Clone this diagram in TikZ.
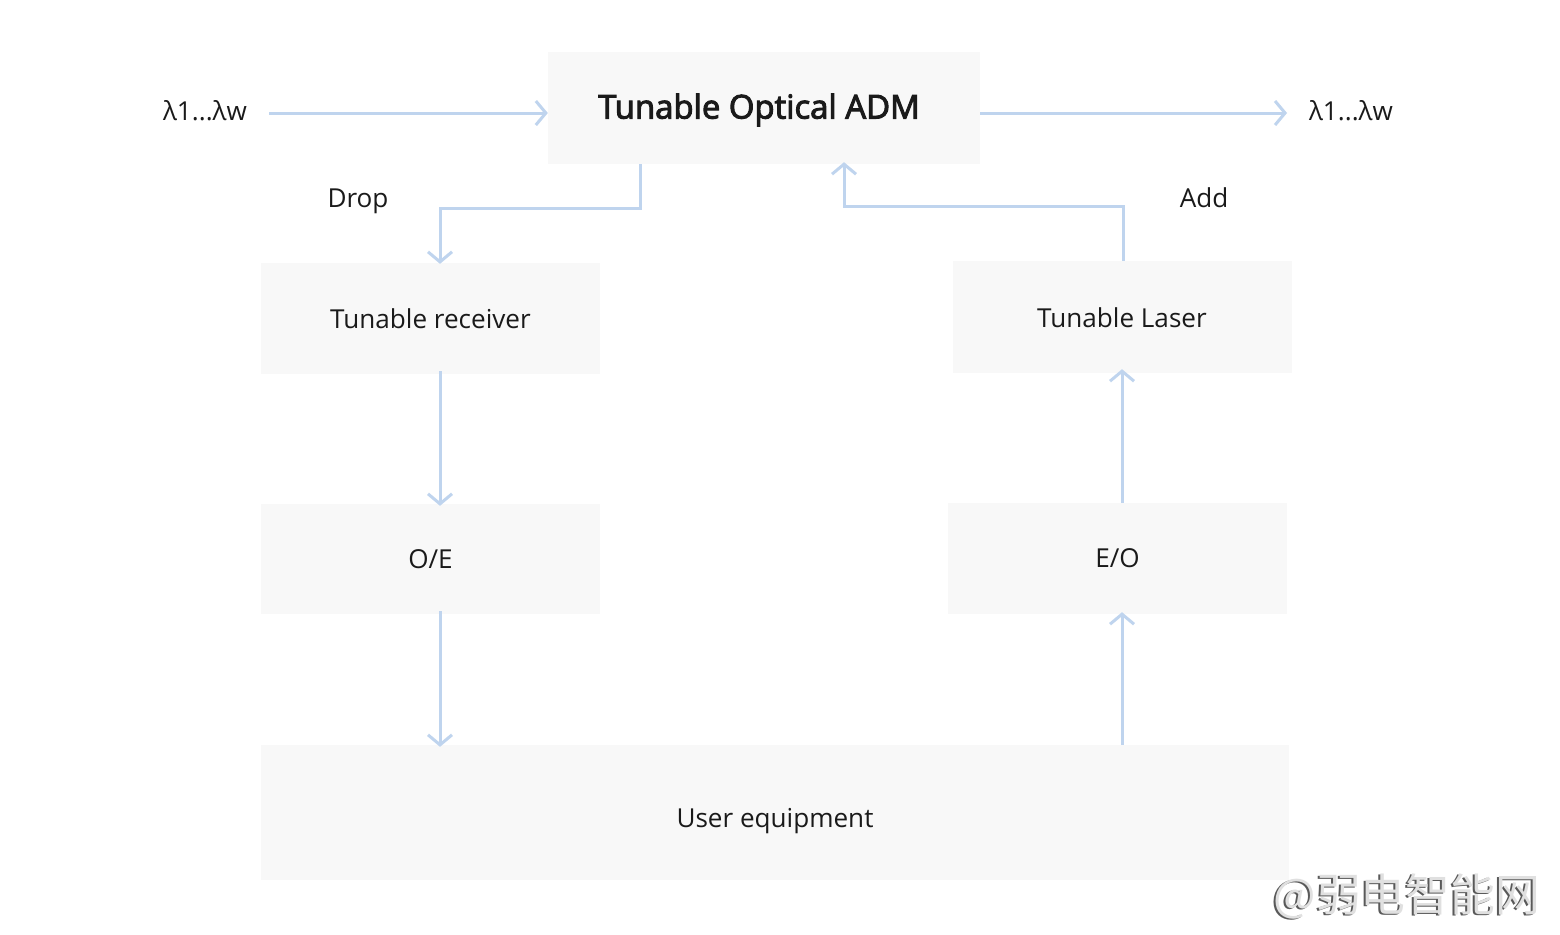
\documentclass[tikz,border=0pt]{standalone}
\usepackage{fontspec}
\setmainfont{Open Sans}
\newfontfamily\semib[FakeBold=3]{Open Sans}
\newfontfamily\cjkfont{Noto Sans CJK SC}
\usetikzlibrary{arrows.meta}
\definecolor{boxfill}{HTML}{F8F8F8}
\definecolor{linkc}{HTML}{BFD4EE}
\definecolor{txt}{HTML}{1A1A1A}
\tikzset{
  blk/.style={fill=boxfill, draw=none, inner sep=0pt, text=txt, font=\fontsize{26.2}{30}\selectfont},
  lbl/.style={inner sep=0pt, text=txt, font=\fontsize{26.2}{30}\selectfont},
  link/.style={draw=linkc, line width=3bp, -{Straight Barb[length=10bp,width=24bp,line width=3bp]}},
}
\begin{document}
\begin{tikzpicture}[x=1bp,y=-1bp]
\useasboundingbox[fill=white] (0,0) rectangle (1560,934);
% boxes
\node[blk, minimum width=432bp, minimum height=112bp] (adm) at (764,108) {};
\node[inner sep=0pt, text=txt, font=\semib\fontsize{33}{38}\selectfont] (admt) at (759,110) {Tunable Optical ADM};
\node[blk, minimum width=339bp, minimum height=111bp] (rx) at (430.5,318.5) {Tunable receiver};
\node[blk, minimum width=339bp, minimum height=112bp] (laser) at (1122.5,317) {};
\node[lbl] (lasert) at (1122,318) {Tunable Laser};
\node[blk, minimum width=339bp, minimum height=110bp] (oe) at (430.5,559) {O/E};
\node[blk, minimum width=339bp, minimum height=111bp] (eo) at (1117.5,558.5) {E/O};
\node[blk, minimum width=1028bp, minimum height=135bp] (ue) at (775,812.5) {};
\node[lbl] (uet) at (775,821) {User equipment};
% labels
\node[lbl] (lin) at (205,111) {λ1...λw};
\node[lbl] (lout) at (1351,111) {λ1...λw};
\node[lbl] (drop) at (358,201) {Drop};
\node[lbl] (add) at (1204,198) {Add};
% coordinates
\coordinate (inS) at (269,113);
\coordinate (outE) at (1287,113);
% connectors
\draw[link] (inS) -- (adm.west |- inS);
\draw[link] (adm.east |- inS) -- (outE);
\draw[link] ([xshift=-124bp]adm.south) |- (440,208) -- ([yshift=-1bp]rx.north -| 440,0);
\draw[link] (laser.north -| 1123,0) |- (844,206) -- ([yshift=2bp]adm.south -| 844,0);
\draw[link] ([yshift=3bp]rx.south -| 440,0) -- ([yshift=-2bp]oe.north -| 440,0);
\draw[link] ([yshift=3bp]oe.south -| 440,0) -- ([yshift=-2bp]ue.north -| 440,0);
\draw[link] (ue.north -| 1122,0) -- ([yshift=2bp]eo.south -| 1122,0);
\draw[link] (eo.north -| 1122,0) -- ([yshift=4bp]laser.south -| 1122,0);
% watermark
\node[inner sep=0pt, text=black!65, font=\cjkfont\fontsize{45}{50}\selectfont] (wm) at (1405,897) {@弱电智能网};
\node[inner sep=0pt, text=black!12, font=\cjkfont\fontsize{45}{50}\selectfont] (wm2) at (1407,896) {@弱电智能网};
\end{tikzpicture}
\end{document}
